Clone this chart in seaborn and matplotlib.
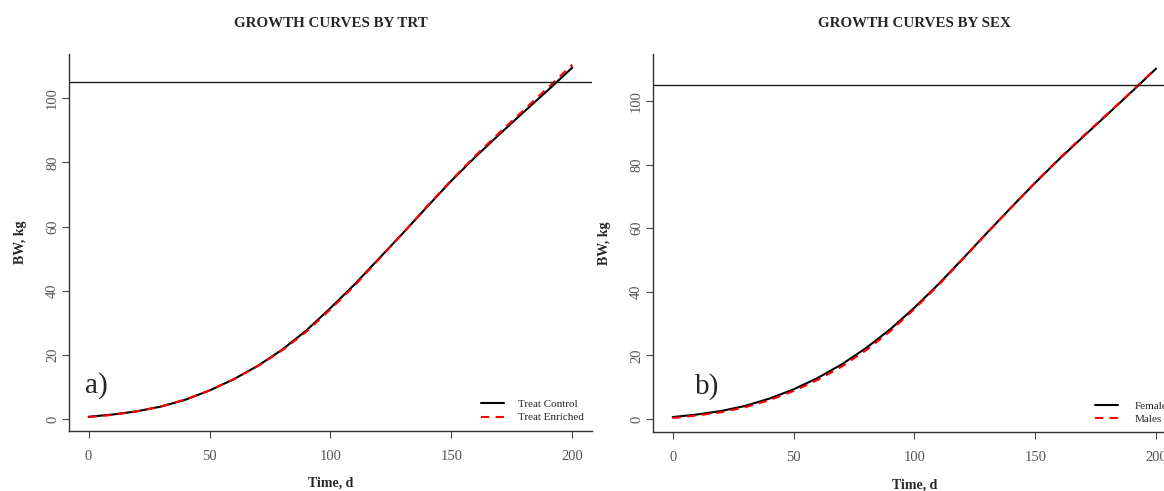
import numpy as np
import pandas as pd
import matplotlib
matplotlib.use("Agg")
import matplotlib.pyplot as plt
import seaborn as sns

# growth curves (BW in kg, every 10 days)
days = [0, 10, 20, 30, 40, 50, 60, 70, 80, 90, 100, 110, 120, 130, 140, 150, 160, 170, 180, 190, 200]
bw_control = [0.7, 1.4, 2.4, 3.9, 6.0, 8.9, 12.4, 16.6, 21.6, 27.6, 34.6, 42.0, 50.0, 58.0, 66.2, 74.3, 81.8, 88.9, 95.8, 102.6, 109.6]
bw_enriched = [0.6, 1.3, 2.4, 3.9, 6.1, 8.9, 12.4, 16.5, 21.4, 27.2, 34.2, 41.6, 49.8, 58.0, 66.4, 74.5, 82.2, 89.4, 96.4, 103.4, 110.5]
bw_female = [0.6, 1.4, 2.5, 4.1, 6.4, 9.3, 12.9, 17.2, 22.3, 28.2, 35.0, 42.4, 50.4, 58.5, 66.5, 74.3, 81.8, 88.9, 95.9, 103.0, 110.2]
bw_male = [0.3, 1.1, 2.1, 3.7, 5.9, 8.8, 12.3, 16.5, 21.6, 27.6, 34.6, 42.1, 50.2, 58.4, 66.4, 74.4, 82.0, 89.1, 96.1, 103.1, 110.4]

x_ticks = [0, 50, 100, 150, 200]
y_ticks = [0, 20, 40, 60, 80, 100]
ref_line = 105

sns.set_style("ticks")
plt.rcParams['font.family'] = ['Liberation Serif', 'DejaVu Serif']


def growth_panel(ax, lab1, y1, lab2, y2, title, tag, tag_x, ylim, leg_x, leg_pad):
	df = pd.DataFrame({
		'Time': days + days,
		'BW': y1 + y2,
		'grp': [lab1] * len(days) + [lab2] * len(days),
	})
	sns.lineplot(data=df, x='Time', y='BW', hue='grp', style='grp',
				 palette={lab1: 'black', lab2: 'red'},
				 dashes={lab1: '', lab2: (4, 3)},
				 lw=1.5, ax=ax)
	ax.axhline(ref_line, color='#222222', lw=1)

	ax.set_xlim(-8, 208)
	ax.set_ylim(*ylim)
	ax.set_xticks(x_ticks)
	ax.set_yticks(y_ticks)
	sns.despine(ax=ax)
	for s in ['left', 'bottom']:
		ax.spines[s].set_color('#333333')
		ax.spines[s].set_linewidth(1)
	ax.tick_params(direction='out', length=4.8, width=0.8, color='#444444',
				   labelsize=10.5, labelcolor='#555555')
	ax.tick_params(axis='x', pad=9)
	ax.tick_params(axis='y', pad=2.5, labelrotation=90)
	for t in ax.get_yticklabels():
		t.set_va('center')

	ax.set_xlabel('Time, d', fontsize=10, fontweight='bold')
	ax.set_ylabel('BW, kg', fontsize=10, fontweight='bold')
	ax.xaxis.set_label_coords(0.5, -0.139)
	ax.xaxis.label.set_va('center')
	ax.yaxis.set_label_coords(-0.093, 0.5)
	ax.yaxis.label.set_va('center')
	ax.yaxis.label.set_ha('center')

	ax.text(0.5, 1.08, title, transform=ax.transAxes, ha='center', va='center',
			fontsize=10.8, fontweight='bold')
	ax.text(tag_x, 10.3, tag, ha='left', va='center', fontsize=21)

	handles, labels = ax.get_legend_handles_labels()
	ax.legend(handles, labels, loc='lower left', bbox_to_anchor=(leg_x, 0.022),
			  frameon=False, fontsize=8, borderpad=0, borderaxespad=0,
			  handlelength=2.1, handletextpad=leg_pad, labelspacing=0.3)


fig = plt.figure(figsize=(11.64, 4.91), dpi=100)
ax1 = fig.add_axes([0.0595, 0.1228, 0.4488, 0.767])
ax2 = fig.add_axes([0.5613, 0.1195, 0.4485, 0.7705])

growth_panel(ax1, 'Treat Control', bw_control, 'Treat Enriched', bw_enriched,
			 'GROWTH CURVES BY TRT', 'a)', -1.5, (-3.65, 113.8), 0.788, 1.2)
growth_panel(ax2, 'Female', bw_female, 'Males', bw_male,
			 'GROWTH CURVES BY SEX', 'b)', 9.2, (-4.2, 114.8), 0.846, 1.5)

fig.savefig('out.png', dpi=100)
